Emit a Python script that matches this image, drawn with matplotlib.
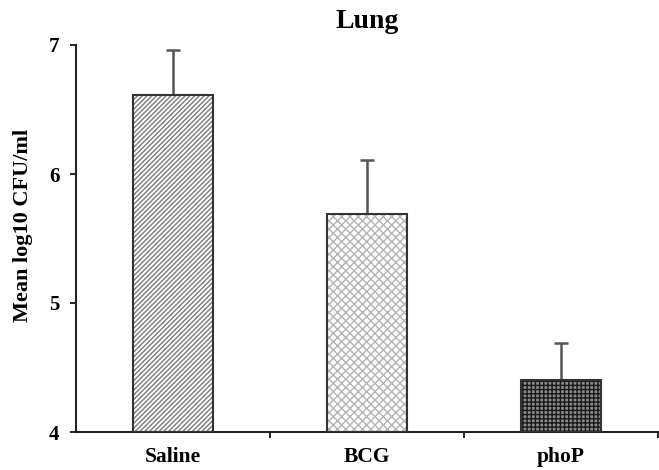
import matplotlib
matplotlib.use("Agg")
import matplotlib.pyplot as plt
import numpy as np

categories = ["Saline", "BCG", "phoP"]
means = [6.61, 5.69, 4.40]
errors = [0.35, 0.42, 0.29]
yticks = [4, 5, 6, 7]

plt.rcParams['font.family'] = ['Liberation Serif', 'DejaVu Serif']
plt.rcParams['font.weight'] = 'bold'
plt.rcParams['hatch.linewidth'] = 1.0

fig = plt.figure(figsize=(6.59, 4.70), dpi=100)
ax = fig.add_axes([76/659, 1 - 432/470, (658 - 76)/659, (432 - 45)/470])

x = np.arange(len(categories))
width = 0.41

face = ['white', 'white', '#8a8a8a']
hatches = ['///////', 'xxxx', '++++']
hcol = ['#7a7a7a', '#b4b4b4', '#1a1a1a']
for i in range(len(categories)):
    ax.bar(x[i], means[i] - 4, width, bottom=4, color=face[i], edgecolor=hcol[i],
           hatch=hatches[i], linewidth=0, zorder=2)
    ax.bar(x[i], means[i] - 4, width, bottom=4, fill=False, edgecolor='#333333',
           linewidth=1.5, zorder=3)

ax.errorbar(x, means, yerr=[np.zeros(len(errors)), errors], fmt='none',
            ecolor='#555555', elinewidth=1.8, capsize=5, capthick=1.8, zorder=1)

ax.set_ylim(4, 7)
ax.set_xlim(-0.5, 2.5)
ax.set_yticks(yticks)
ax.set_yticklabels([str(t) for t in yticks], fontsize=15, fontweight='bold')
ax.set_xticks(x)
ax.set_xticklabels(categories, fontsize=15.5, fontweight='bold')
ax.tick_params(axis='x', which='major', length=0, pad=11)
ax.set_xticks([0.5, 1.5, 2.5], minor=True)
ax.tick_params(axis='x', which='minor', length=4, width=1.2, direction='out')
ax.tick_params(axis='y', length=4, width=1.2, direction='out', pad=8)

for s in ['top', 'right']:
    ax.spines[s].set_visible(False)
for s in ['left', 'bottom']:
    ax.spines[s].set_linewidth(1.5)
    ax.spines[s].set_color('#222222')

ax.set_ylabel("Mean log10 CFU/ml", fontsize=16, fontweight='bold')
ax.yaxis.set_label_coords((33 - 76) / 582, (432 - 225) / 387)
ax.set_title("Lung", fontsize=20, fontweight='bold', pad=12)

fig.savefig("out.png", dpi=100)
